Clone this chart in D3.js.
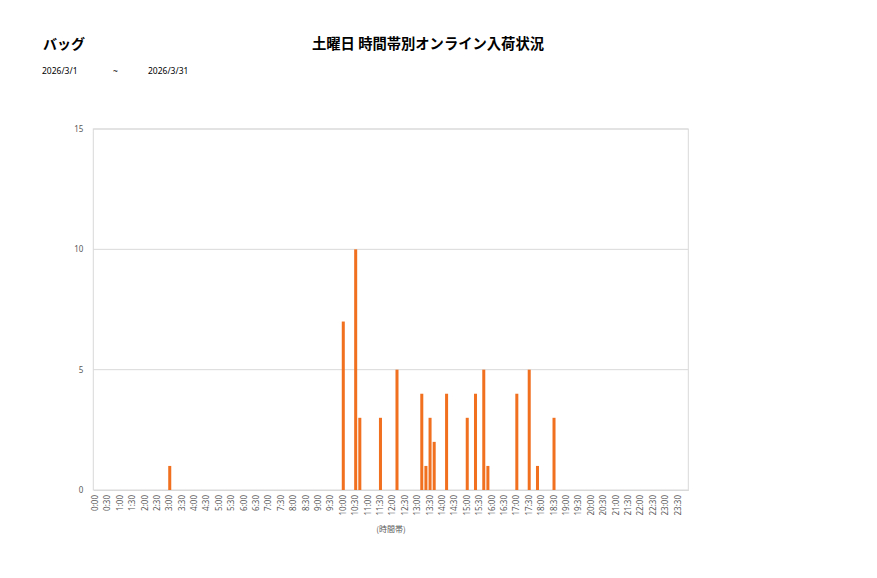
<!DOCTYPE html>
<html><head><meta charset="utf-8">
<script src="https://cdn.jsdelivr.net/npm/d3@7/dist/d3.min.js"></script>
<style>
body{margin:0;background:#fff;}
svg{display:block;}
</style></head>
<body>
<svg id="c" width="877" height="578"></svg>
<script>
const chartTitle = "土曜日 時間帯別オンライン入荷状況";
const categoryName = "バッグ";
const dateFrom = "2026/3/1";
const dateTo = "2026/3/31";
const xAxisTitle = "(時間帯)";
// 10-minute slots, one row per hour
const values = [
  0,0,0,0,0,0,  0,0,0,0,0,0,  0,0,0,0,0,0,  1,0,0,0,0,0,
  0,0,0,0,0,0,  0,0,0,0,0,0,  0,0,0,0,0,0,  0,0,0,0,0,0,
  0,0,0,0,0,0,  0,0,0,0,0,0,  7,0,0,10,3,0, 0,0,0,3,0,0,
  0,5,0,0,0,0,  0,4,1,3,2,0,  0,4,0,0,0,0,  3,0,4,0,5,1,
  0,0,0,0,0,0,  4,0,0,5,0,1,  0,0,0,3,0,0,  0,0,0,0,0,0,
  0,0,0,0,0,0,  0,0,0,0,0,0,  0,0,0,0,0,0,  0,0,0,0,0,0
];
const categories = [];
for (let h = 0; h < 24; h++) for (let m = 0; m < 60; m += 10) categories.push(h + ":" + String(m).padStart(2, "0"));
const tickLabels = ["0:00","0:30","1:00","1:30","2:00","2:30","3:00","3:30","4:00","4:30","5:00","5:30",
  "6:00","6:30","7:00","7:30","8:00","8:30","9:00","9:30","10:00","10:30","11:00","11:30",
  "12:00","12:30","13:00","13:30","14:00","14:30","15:00","15:30","16:00","16:30","17:00","17:30",
  "18:00","18:30","19:00","19:30","20:00","20:30","21:00","21:30","22:00","22:30","23:00","23:30"];
const yTicks = [0,5,10,15];

const svg = d3.select("#c");
const L = 93.3, R = 688.3, T = 129, B = 490;
const x = d3.scaleBand().domain(categories).range([L, R]).paddingInner(0.27).paddingOuter(0.135);
const y = d3.scaleLinear().domain([0, 15]).range([B, T]);
const jp = "'Noto Sans CJK JP', sans-serif";
const num = "'Noto Sans', 'DejaVu Sans', sans-serif";

// titles
svg.append("text").attr("x", 43).attr("y", 49).attr("font-family", jp).attr("font-weight", "bold")
  .attr("font-size", 14).attr("fill", "#000").text(categoryName);
svg.append("text").attr("x", 428).attr("y", 49).attr("text-anchor", "middle").attr("font-family", jp)
  .attr("font-weight", "bold").attr("font-size", 14.3).attr("fill", "#000").text(chartTitle);
svg.append("text").attr("x", 42).attr("y", 74).attr("font-family", num).attr("font-size", 8.5).attr("fill", "#000").text(dateFrom);
svg.append("text").attr("x", 113).attr("y", 74).attr("font-family", num).attr("font-size", 8.5).attr("fill", "#000").text("~");
svg.append("text").attr("x", 148).attr("y", 74).attr("font-family", num).attr("font-size", 8.5).attr("fill", "#000").text(dateTo);

// gridlines
svg.append("g").selectAll("line").data(yTicks.filter(d => d > 0)).join("line")
  .attr("x1", L).attr("x2", R).attr("y1", d => y(d)).attr("y2", d => y(d))
  .attr("stroke", "#d9d9d9").attr("stroke-width", 1);
// border
svg.append("rect").attr("x", L).attr("y", T).attr("width", R - L).attr("height", B - T)
  .attr("fill", "none").attr("stroke", "#d9d9d9").attr("stroke-width", 1);

// y axis labels
const ya = svg.append("g").attr("transform", `translate(${L},0)`)
  .call(d3.axisLeft(y).tickValues(yTicks).tickSize(0).tickPadding(10).tickFormat(d3.format("d")));
ya.select(".domain").remove();
ya.selectAll("text").attr("font-family", num).attr("font-size", 8).attr("fill", "#595959");

// bars
svg.append("g").selectAll("rect").data(categories.map((c, i) => ({c, v: values[i]})).filter(d => d.v > 0)).join("rect")
  .attr("x", d => x(d.c)).attr("width", x.bandwidth())
  .attr("y", d => y(d.v)).attr("height", d => y(0) - y(d.v))
  .attr("fill", "#f07020");

// x axis
const xa = svg.append("g").attr("transform", `translate(0,${B})`)
  .call(d3.axisBottom(x).tickValues(tickLabels).tickSize(0).tickPadding(0));
xa.select(".domain").attr("stroke", "#d9d9d9");
xa.selectAll("text").attr("font-family", num).attr("font-size", 8).attr("fill", "#595959")
  .attr("text-anchor", "end").attr("transform", "rotate(-90)")
  .attr("x", -5).attr("y", 0).attr("dy", "0.32em");

svg.append("text").attr("x", 391).attr("y", 532).attr("text-anchor", "middle").attr("font-family", jp)
  .attr("font-size", 8).attr("fill", "#595959").text(xAxisTitle);
</script>
</body></html>
